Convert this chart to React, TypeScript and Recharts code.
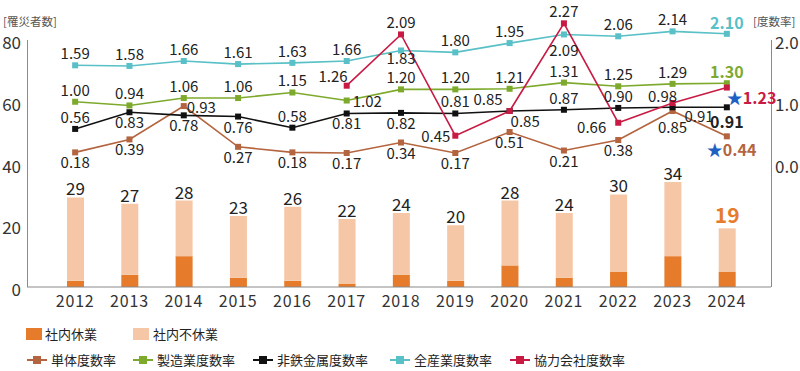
import React from 'react';
import { ComposedChart, Bar, Line, XAxis, YAxis, LabelList } from 'recharts';

const years = ['2012', '2013', '2014', '2015', '2016', '2017', '2018', '2019', '2020', '2021', '2022', '2023', '2024'];
const lostTime = [2, 4, 10, 3, 2, 1, 4, 2, 7, 3, 5, 10, 5];
const nonLostTime = [27, 23, 18, 20, 24, 21, 20, 18, 21, 21, 25, 24, 14];
const totals = [29, 27, 28, 23, 26, 22, 24, 20, 28, 24, 30, 34, 19];

const companyRate = [0.18, 0.39, 0.93, 0.27, 0.18, 0.17, 0.34, 0.17, 0.51, 0.21, 0.38, 0.85, 0.44];
const manufacturingRate = [1.0, 0.94, 1.06, 1.06, 1.15, 1.02, 1.2, 1.2, 1.21, 1.31, 1.25, 1.29, 1.3];
const nonFerrousRate = [0.56, 0.83, 0.78, 0.76, 0.58, 0.81, 0.82, 0.81, 0.85, 0.87, 0.9, 0.91, 0.91];
const allIndustryRate = [1.59, 1.58, 1.66, 1.61, 1.63, 1.66, 1.83, 1.8, 1.95, 2.09, 2.06, 2.14, 2.1];
const partnerRate = [null, null, null, null, null, 1.26, 2.09, 0.45, 0.85, 2.27, 0.66, 0.98, 1.23];

const leftTicks = [0, 20, 40, 60, 80];
const rightTicks = [0, 1, 2];

const data = years.map((y, i) => ({
  year: y,
  lost: lostTime[i],
  nonLost: nonLostTime[i],
  total: totals[i],
  company: companyRate[i],
  manufacturing: manufacturingRate[i],
  nonFerrous: nonFerrousRate[i],
  allIndustry: allIndustryRate[i],
  partner: partnerRate[i],
}));

const C = {
  lost: '#E57B2B',
  nonLost: '#F6C7A6',
  company: '#B4643E',
  manufacturing: '#7DAA2C',
  nonFerrous: '#111111',
  allIndustry: '#58C0C6',
  partner: '#C81A43',
  star: '#1F5FC4',
  text: '#222222',
  axis: '#8a8a8a',
};

const FONT = '"Noto Sans CJK JP", "Noto Sans", sans-serif';

// plot geometry: plot spans y 14..287, axis lines drawn from y 40 (the 80 / 2.0 level)
const PLOT_TOP = 14;
const LEFT_MAX = 80 + (40 - PLOT_TOP) / (247 / 80);
const RIGHT_MAX = 2 + (40 - PLOT_TOP) / (247 / 4);

// label placement keys per point
const companyPos = ['b', 'b', 'r', 'b', 'b', 'b', 'b', 'b', 'b', 'b', 'b', 'b2', 'starB'];
const manufacturingPos = ['a', 'a', 'a', 'a', 'a', 'r2', 'a', 'a', 'a', 'a', 'a', 'a', 'hiA'];
const nonFerrousPos = ['a', 'b', 'b', 'b', 'a', 'b', 'b', 'a', 'br', 'a', 'a', 'br2', 'boldB'];
const allIndustryPos = ['a', 'a', 'a', 'a', 'a', 'a', 'bs', 'a', 'a', 'b2', 'a', 'a', 'hiA'];
const partnerPos = ['', '', '', '', '', 'al', 'a', 'l', 'al2', 'a', 'bl', 'aL', 'starR'];

function makeLabel(positions: string[], color: string) {
  return (props: any) => {
    const { x, y, value, index } = props;
    if (value == null || x == null || y == null) return null;
    const kind = positions[index];
    const txt = Number(value).toFixed(2);
    const base = { fontFamily: FONT, fontSize: 15, fill: C.text } as any;
    switch (kind) {
      case 'a':
        return <text x={x} y={y - 6} textAnchor="middle" {...base}>{txt}</text>;
      case 'aL':
        return <text x={x - 10} y={y - 1} textAnchor="middle" {...base}>{txt}</text>;
      case 'b':
        return <text x={x} y={y + 16} textAnchor="middle" {...base}>{txt}</text>;
      case 'bs':
        return <text x={x} y={y + 14} textAnchor="middle" {...base}>{txt}</text>;
      case 'b2':
        return <text x={x} y={y + 22} textAnchor="middle" {...base}>{txt}</text>;
      case 'r':
        return <text x={x + 3} y={y + 7} textAnchor="start" {...base}>{txt}</text>;
      case 'r2':
        return <text x={x + 6} y={y + 6} textAnchor="start" {...base}>{txt}</text>;
      case 'l':
        return <text x={x - 5} y={y + 6} textAnchor="end" {...base}>{txt}</text>;
      case 'bl':
        return <text x={x - 12} y={y + 10} textAnchor="end" {...base}>{txt}</text>;
      case 'al':
        return <text x={x + 1} y={y - 4} textAnchor="end" {...base}>{txt}</text>;
      case 'al2':
        return <text x={x - 7} y={y - 6} textAnchor="end" {...base}>{txt}</text>;
      case 'br':
        return <text x={x + 1} y={y + 16} textAnchor="start" {...base}>{txt}</text>;
      case 'br2':
        return <text x={x + 12} y={y + 15} textAnchor="start" {...base}>{txt}</text>;
      case 'hiA':
        return <text x={x} y={y - 5} textAnchor="middle" {...base} fontSize={16} fill={color} fontWeight={600}>{txt}</text>;
      case 'boldB':
        return <text x={x} y={y + 21} textAnchor="middle" {...base} fontSize={16} fontWeight={700}>{txt}</text>;
      case 'starR':
        return (
          <text x={x} y={y + 16} textAnchor="start" {...base} fontSize={16} fontWeight={700}>
            <tspan fill={C.star} fontWeight={400}>★</tspan>
            <tspan fill={color}>{txt}</tspan>
          </text>
        );
      case 'starB':
        return (
          <text x={x - 20} y={y + 20} textAnchor="start" {...base} fontSize={16} fontWeight={700}>
            <tspan fill={C.star} fontWeight={400}>★</tspan>
            <tspan fill={color}>{txt}</tspan>
          </text>
        );
      default:
        return null;
    }
  };
}

function squareDot(color: string) {
  return (props: any) => {
    const { cx, cy, value, index } = props;
    if (value == null || cx == null || cy == null) return <g key={`d-${index}`} />;
    return <rect key={`d-${index}`} x={cx - 3} y={cy - 3} width={6} height={6} fill={color} />;
  };
}

const totalLabel = (props: any) => {
  const { x, y, width, index } = props;
  const last = index === totals.length - 1;
  return (
    <text
      x={x + width / 2}
      y={y - (last ? 5 : 2)}
      textAnchor="middle"
      fontFamily={FONT}
      fontSize={last ? 21 : 17}
      fontWeight={last ? 600 : 400}
      fill={last ? C.lost : C.text}
    >
      {totals[index]}
    </text>
  );
};

const lineSeries = [
  { key: 'company', name: '単体度数率', color: C.company, pos: companyPos },
  { key: 'manufacturing', name: '製造業度数率', color: C.manufacturing, pos: manufacturingPos },
  { key: 'nonFerrous', name: '非鉄金属度数率', color: C.nonFerrous, pos: nonFerrousPos },
  { key: 'allIndustry', name: '全産業度数率', color: C.allIndustry, pos: allIndustryPos },
  { key: 'partner', name: '協力会社度数率', color: C.partner, pos: partnerPos },
];

const lineLegendX = [27, 133, 253, 390, 510];

export default function App() {
  return (
    <div style={{ position: 'absolute', left: 0, top: 0, width: 800, height: 371, background: '#fff', fontFamily: FONT }}>
      <div style={{ position: 'absolute', left: 3, top: 15, fontSize: 11.5, lineHeight: '13px', color: '#555', whiteSpace: 'nowrap' }}>[罹災者数]</div>
      <div style={{ position: 'absolute', left: 753, top: 15, fontSize: 11.5, lineHeight: '13px', color: '#555', whiteSpace: 'nowrap' }}>[度数率]</div>
      <div style={{ position: 'absolute', left: 26.5, top: 40, width: 1.2, height: 247, background: C.axis }} />
      <div style={{ position: 'absolute', left: 770.5, top: 40, width: 1.2, height: 247, background: C.axis }} />
      <ComposedChart
        width={800}
        height={317}
        data={data}
        margin={{ top: PLOT_TOP, right: 0, left: 0, bottom: 0 }}
        barSize={17}
        style={{ position: 'absolute', left: 0, top: 0 }}
      >
        <XAxis
          dataKey="year"
          height={30}
          tickLine={false}
          tickSize={9}
          tickMargin={0}
          padding={{ left: 21, right: 17 }}
          axisLine={{ stroke: C.axis, strokeWidth: 1.2 }}
          tick={{ fontFamily: FONT, fontSize: 16, fill: '#333', letterSpacing: 0.8 }}
        />
        <YAxis
          yAxisId="left"
          orientation="left"
          width={27}
          domain={[0, LEFT_MAX]}
          ticks={leftTicks}
          tickLine={false}
          tickSize={6}
          tickMargin={0}
          axisLine={false}
          tick={{ fontFamily: FONT, fontSize: 17, fill: '#333', dy: 3 }}
          interval={0}
        />
        <YAxis
          yAxisId="right"
          orientation="right"
          width={29}
          domain={[-2, RIGHT_MAX]}
          ticks={rightTicks}
          tickLine={false}
          tickSize={4}
          tickMargin={0}
          tickFormatter={(v: number) => v.toFixed(1)}
          axisLine={false}
          tick={{ fontFamily: FONT, fontSize: 17, fill: '#333', dy: 3 }}
          interval={0}
        />
        <Bar yAxisId="left" dataKey="lost" stackId="a" fill={C.lost} isAnimationActive={false} />
        <Bar yAxisId="left" dataKey="nonLost" stackId="a" fill={C.nonLost} isAnimationActive={false}>
          <LabelList dataKey="total" content={totalLabel} />
        </Bar>
        {lineSeries.map((s) => (
          <Line
            key={s.key}
            yAxisId="right"
            type="linear"
            dataKey={s.key}
            stroke={s.color}
            strokeWidth={1.6}
            dot={squareDot(s.color)}
            activeDot={false}
            isAnimationActive={false}
            connectNulls={false}
          >
            <LabelList dataKey={s.key} content={makeLabel(s.pos, s.color)} />
          </Line>
        ))}
      </ComposedChart>
      <div style={{ position: 'absolute', top: 324, left: 26, display: 'flex', alignItems: 'center', fontSize: 13, color: '#222' }}>
        <span style={{ display: 'inline-block', width: 16, height: 12, background: C.lost, marginRight: 3 }} />
        <span>社内休業</span>
      </div>
      <div style={{ position: 'absolute', top: 324, left: 133, display: 'flex', alignItems: 'center', fontSize: 13, color: '#222' }}>
        <span style={{ display: 'inline-block', width: 16, height: 12, background: C.nonLost, marginRight: 4 }} />
        <span>社内不休業</span>
      </div>
      {lineSeries.map((s, i) => (
        <div key={s.key} style={{ position: 'absolute', top: 350, left: lineLegendX[i], display: 'flex', alignItems: 'center', fontSize: 13, color: '#222' }}>
          <svg width={20} height={12} style={{ marginRight: 4 }}>
            <line x1={0} y1={6} x2={20} y2={6} stroke={s.color} strokeWidth={2} />
            <rect x={6} y={2} width={8} height={8} fill={s.color} />
          </svg>
          <span>{s.name}</span>
        </div>
      ))}
    </div>
  );
}
